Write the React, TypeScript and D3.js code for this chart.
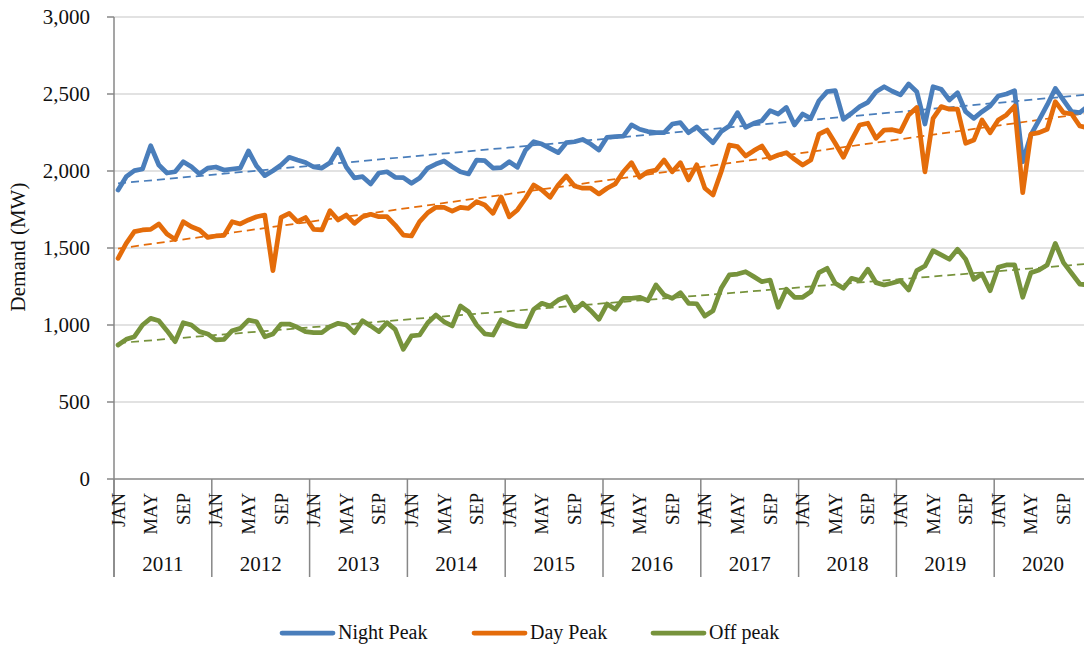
import React from "react";
import * as d3 from "d3";

const years = ["2011", "2012", "2013", "2014", "2015", "2016", "2017", "2018", "2019", "2020"];
const monthLabels = ["JAN", "", "", "", "MAY", "", "", "", "SEP", "", "", ""];
const yTicks = [0, 500, 1000, 1500, 2000, 2500, 3000];

const nightPeak = [
  1877, 1963, 2002, 2013, 2164, 2039, 1987, 1995, 2060, 2028, 1981, 2019,
  2026, 2006, 2013, 2019, 2130, 2032, 1970, 2002, 2039, 2089, 2071, 2055,
  2026, 2019, 2054, 2143, 2026, 1955, 1963, 1916, 1987, 1995, 1959, 1957,
  1920, 1955, 2019, 2045, 2065, 2028, 1995, 1981, 2071, 2067, 2019, 2022,
  2060, 2024, 2136, 2190, 2175, 2147, 2119, 2184, 2190, 2205, 2175, 2136,
  2219, 2223, 2227, 2299, 2271, 2256, 2249, 2249, 2305, 2314, 2249, 2286,
  2234, 2184, 2256, 2292, 2379, 2284, 2310, 2327, 2392, 2370, 2413, 2299,
  2370, 2342, 2456, 2515, 2522, 2336, 2375, 2418, 2446, 2515, 2547, 2518,
  2494, 2565, 2515, 2305, 2547, 2531, 2461, 2508, 2385, 2342, 2385, 2422,
  2487, 2500, 2522, 2060, 2234, 2331, 2429, 2536, 2461, 2385, 2379, 2420,
];

const dayPeak = [
  1433, 1530, 1606, 1617, 1621, 1656, 1591, 1556, 1671, 1638, 1617, 1569,
  1578, 1582, 1671, 1656, 1682, 1703, 1714, 1353, 1699, 1725, 1671, 1698,
  1621, 1617, 1742, 1682, 1714, 1660, 1703, 1719, 1703, 1703, 1649, 1584,
  1578, 1671, 1729, 1764, 1764, 1740, 1764, 1758, 1801, 1779, 1725, 1831,
  1703, 1747, 1823, 1909, 1877, 1829, 1909, 1968, 1903, 1888, 1888, 1851,
  1888, 1916, 1995, 2054, 1959, 1995, 2006, 2071, 1995, 2054, 1942, 2040,
  1888, 1844, 1995, 2169, 2158, 2097, 2132, 2162, 2082, 2104, 2119, 2076,
  2039, 2071, 2240, 2266, 2180, 2089, 2201, 2299, 2310, 2212, 2266, 2268,
  2256, 2364, 2413, 1995, 2342, 2418, 2401, 2401, 2180, 2201, 2331, 2249,
  2331, 2364, 2422, 1859, 2240, 2249, 2271, 2450, 2379, 2370, 2292, 2280,
];

const offPeak = [
  870, 907, 924, 1000, 1043, 1028, 963, 892, 1015, 1000, 957, 942,
  903, 907, 963, 978, 1032, 1021, 924, 942, 1006, 1006, 985, 957,
  950, 950, 989, 1011, 1000, 950, 1028, 994, 957, 1015, 972, 842,
  929, 935, 1015, 1065, 1021, 994, 1123, 1086, 1000, 942, 935, 1034,
  1011, 994, 989, 1102, 1141, 1123, 1162, 1184, 1093, 1141, 1093, 1037,
  1136, 1102, 1173, 1173, 1180, 1158, 1260, 1195, 1173, 1210, 1141, 1138,
  1058, 1093, 1238, 1325, 1331, 1346, 1314, 1281, 1292, 1115, 1232, 1180,
  1180, 1216, 1340, 1368, 1271, 1238, 1303, 1288, 1362, 1275, 1260, 1273,
  1288, 1227, 1353, 1383, 1483, 1455, 1427, 1492, 1427, 1297, 1331, 1223,
  1375, 1390, 1390, 1180, 1340, 1357, 1390, 1530, 1405, 1336, 1266, 1260,
];

const seriesNames = ["Night Peak", "Day Peak", "Off peak"];
const seriesColors = ["#4A7EBB", "#E46C0A", "#77933C"];

const W = 1084;
const H = 648;
const FONT = "'Liberation Serif', 'Times New Roman', serif";

function regression(vals: number[]) {
  const n = vals.length;
  const mx = d3.mean(vals.map((_, i) => i)) as number;
  const my = d3.mean(vals) as number;
  let sxy = 0, sxx = 0;
  vals.forEach((v, i) => {
    sxy += (i - mx) * (v - my);
    sxx += (i - mx) * (i - mx);
  });
  const b = sxy / sxx;
  const a = my - b * mx;
  return [
    [0, a],
    [n - 1, a + b * (n - 1)],
  ];
}

export default function App() {
  const nMonths = nightPeak.length;
  const x = d3.scaleLinear().domain([0, nMonths]).range([114, 1092]);
  const y = d3.scaleLinear().domain([0, 3000]).range([479, 17]);
  const data = [nightPeak, dayPeak, offPeak];

  const line = d3
    .line<number>()
    .x((_, i) => x(i + 0.5))
    .y((d) => y(d));
  const trendLine = d3
    .line<number[]>()
    .x((d) => x(d[0] + 0.5))
    .y((d) => y(d[1]));

  const axisColor = "#878787";
  const legendX = [282, 474, 653];

  return (
    <svg
      width={W}
      height={H}
      style={{ position: "absolute", left: 0, top: 0, background: "#fff" }}
      fontFamily={FONT}
    >
      <rect x={0} y={0} width={W} height={H} fill="#fff" />
      {yTicks.filter((t) => t > 0).map((t) => (
        <line key={"g" + t} x1={114} x2={W} y1={y(t)} y2={y(t)} stroke="#D9D9D9" strokeWidth={1.5} />
      ))}
      <line x1={114} x2={114} y1={y(3000)} y2={577} stroke={axisColor} strokeWidth={1.5} />
      {yTicks.map((t) => (
        <g key={"t" + t}>
          <line x1={107} x2={114} y1={y(t)} y2={y(t)} stroke={axisColor} strokeWidth={1.5} />
          <text x={90} y={y(t)} dy="0.35em" textAnchor="end" fontSize={21} fill="#111">
            {d3.format(",")(t)}
          </text>
        </g>
      ))}
      <text
        transform={`translate(25,${y(1500) - 1}) rotate(-90)`}
        textAnchor="middle"
        fontSize={21}
        fill="#111"
      >
        Demand (MW)
      </text>
      <line x1={114} x2={W} y1={y(0)} y2={y(0)} stroke={axisColor} strokeWidth={1.5} />
      {years.map((yr, yi) => (
        <g key={yr}>
          <line x1={x(yi * 12)} x2={x(yi * 12)} y1={y(0)} y2={577} stroke={axisColor} strokeWidth={1.5} />
          <text x={x(yi * 12 + 6)} y={571} textAnchor="middle" fontSize={21} fill="#111">
            {yr}
          </text>
          {monthLabels.map((m, mi) =>
            m ? (
              <text
                key={m}
                transform={`translate(${x(yi * 12 + mi + 0.5)},493) rotate(-90)`}
                textAnchor="end"
                dy="0.35em"
                fontSize={18.5}
                fill="#111"
              >
                {m}
              </text>
            ) : null
          )}
        </g>
      ))}
      {data.map((vals, si) => (
        <path
          key={"tr" + si}
          d={trendLine(regression(vals)) || ""}
          fill="none"
          stroke={seriesColors[si]}
          strokeWidth={1.75}
          strokeDasharray="8,5"
        />
      ))}
      {data.map((vals, si) => (
        <path
          key={"s" + si}
          d={line(vals) || ""}
          fill="none"
          stroke={seriesColors[si]}
          strokeWidth={4.75}
          strokeLinejoin="round"
          strokeLinecap="round"
        />
      ))}
      {seriesNames.map((name, si) => (
        <g key={name}>
          <line
            x1={legendX[si]}
            x2={legendX[si] + 51}
            y1={633}
            y2={633}
            stroke={seriesColors[si]}
            strokeWidth={4.75}
            strokeLinecap="round"
          />
          <text x={legendX[si] + 56} y={639} fontSize={20} fill="#111">
            {name}
          </text>
        </g>
      ))}
    </svg>
  );
}
